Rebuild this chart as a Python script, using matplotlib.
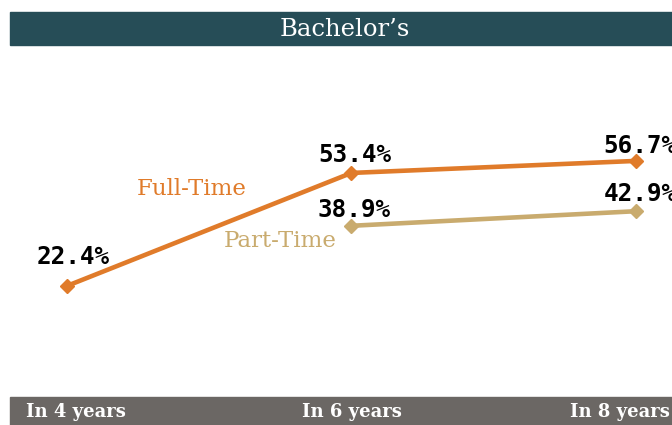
import numpy as np
import matplotlib
matplotlib.use("Agg")
import matplotlib.pyplot as plt
from matplotlib.patches import Rectangle

# graduation rates for bachelor's students
periods = ["In 4 years", "In 6 years", "In 8 years"]
full_time = [22.4, 53.4, 56.7]
part_time = [np.nan, 38.9, 42.9]

TEAL = "#264d57"
GREY = "#6b6764"
ORANGE = "#e07b2a"
TAN = "#c9ab6e"

W, H = 672, 425
fig = plt.figure(figsize=(W / 100, H / 100), dpi=100)

# axes sits between the header band and the footer band
ax = fig.add_axes([10 / W, 28 / H, 662 / W, (397 - 45) / H])
ax.set_xlim(-0.2, 2.127)
ax.set_ylim(-8.07, 88.5)
ax.axis("off")

x = np.arange(len(periods))
ax.plot(x, full_time, color=ORANGE, lw=3.3, marker="D", ms=7.5, clip_on=False)
ax.plot(x, part_time, color=TAN, lw=3.3, marker="D", ms=7.5, clip_on=False)

label_font = dict(family=["DejaVu Sans Mono"], weight="bold", fontsize=17.5,
                  ha="center", va="baseline", color="black")
# label nudges in pixels (dx, dy) from each point
ft_offsets = [(6, 22), (3, 11), (4, 8)]
pt_offsets = [(0, 0), (3, 9), (4, 10)]
for vals, offs in [(full_time, ft_offsets), (part_time, pt_offsets)]:
    for i, v in enumerate(vals):
        if np.isnan(v):
            continue
        dx, dy = offs[i]
        ax.annotate(f"{v}%", (x[i], v), xytext=(dx * 0.72, dy * 0.72),
                    textcoords="offset points", annotation_clip=False,
                    **label_font)

serif = ["DejaVu Serif"]
ax.text(0.44, 49.1, "Full-Time", color=ORANGE, fontsize=16.5, family=serif,
        ha="center", va="center")
ax.text(0.75, 34.8, "Part-Time", color=TAN, fontsize=16.5, family=serif,
        ha="center", va="center")

# header and footer bands
fig.patches.append(Rectangle((10 / W, (H - 45) / H), 662 / W, 33 / H,
                             transform=fig.transFigure, color=TEAL, zorder=0))
fig.patches.append(Rectangle((10 / W, 0), 662 / W, 28 / H,
                             transform=fig.transFigure, color=GREY, zorder=0))
fig.text(345 / W, (H - 30) / H, "Bachelor\u2019s", color="white", fontsize=17.5,
         family=serif, ha="center", va="center")

for px, lab in zip([76, 352, 620], periods):
    fig.text(px / W, 13 / H, lab, color="white", fontsize=13, weight="bold",
             family=serif, ha="center", va="center")

fig.savefig("out.png", dpi=100)
